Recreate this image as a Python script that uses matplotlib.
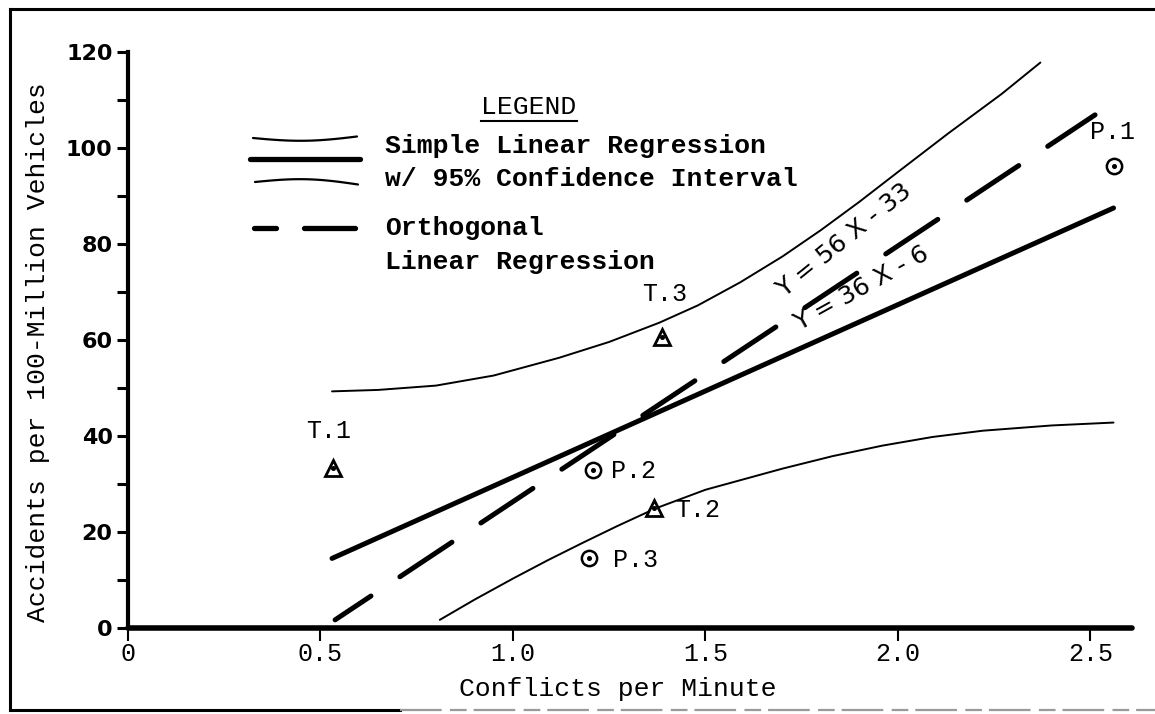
import matplotlib
matplotlib.use("Agg")
import matplotlib.pyplot as plt
import numpy as np
from matplotlib.lines import Line2D

plt.rcParams['lines.scale_dashes'] = False

# ---------------- data ----------------
x_ticks = [0, 0.5, 1.0, 1.5, 2.0, 2.5]
x_tick_labels = ["0", "0.5", "1.0", "1.5", "2.0", "2.5"]
y_ticks = [0, 20, 40, 60, 80, 100, 120]
y_minor_ticks = [10, 30, 50, 70, 90, 110]

# simple linear regression Y = 36 X - 6 (end points as drawn)
simple_x = [0.53, 2.56]
simple_y = [14.5, 87.5]
# orthogonal regression Y = 56 X - 33 (end points as drawn)
orth_x = [0.538, 2.512]
orth_y = [1.7, 106.9]
# 95% confidence band
upper_x = [0.53, 0.65, 0.80, 0.95, 1.12, 1.25, 1.38, 1.48, 1.59, 1.70, 1.80, 1.90, 2.00, 2.13, 2.27, 2.37]
upper_y = [49.3, 49.6, 50.5, 52.6, 56.3, 59.6, 63.6, 67.2, 72.0, 77.4, 82.9, 88.8, 95.0, 103.0, 111.3, 117.8]
lower_x = [0.81, 0.90, 1.00, 1.09, 1.18, 1.27, 1.37, 1.50, 1.70, 1.83, 1.96, 2.09, 2.22, 2.40, 2.56]
lower_y = [1.7, 5.9, 10.3, 14.1, 17.7, 21.2, 24.9, 28.8, 33.2, 35.8, 38.0, 39.8, 41.1, 42.2, 42.8]

# observations
tri_names = ["T.1", "T.2", "T.3"]
tri_x = [0.532, 1.366, 1.388]
tri_y = [33.3, 24.9, 60.7]
circ_names = ["P.1", "P.2", "P.3"]
circ_x = [2.562, 1.208, 1.198]
circ_y = [96.2, 32.9, 14.5]

eq_labels = ["Y = 56 X - 33", "Y = 36 X - 6"]

# ---------------- figure ----------------
W, H = 1155, 714
fig = plt.figure(figsize=(W / 100, H / 100), dpi=100)
fig.patch.set_facecolor("white")

def P(x, y):
    return (x / W, 1 - y / H)

ax = fig.add_axes([128 / W, 1 - 628 / H, (1132 - 128) / W, (628 - 52) / H])
ax.set_xlim(0, 2.608)
ax.set_ylim(0, 120)
ax.set_facecolor("white")

MONO = "Liberation Mono"
INK = "black"

# confidence band
ax.plot(upper_x, upper_y, color=INK, lw=1.4, solid_capstyle="round", solid_joinstyle="round")
ax.plot(lower_x, lower_y, color=INK, lw=1.4, solid_capstyle="round", solid_joinstyle="round")
# simple regression
ax.plot(simple_x, simple_y, color=INK, lw=3.6, solid_capstyle="round")
# orthogonal regression (long dashes)
ax.plot(orth_x, orth_y, color=INK, lw=3.6, linestyle=(14, (45, 25)), dash_capstyle="round")

# markers
ax.plot(tri_x, tri_y, ls="none", marker="^", ms=12, mfc="white", mec=INK, mew=2.0, zorder=5)
ax.plot(tri_x, tri_y, ls="none", marker="o", ms=2.6, color=INK, zorder=6)
ax.plot(circ_x, circ_y, ls="none", marker="o", ms=11, mfc="white", mec=INK, mew=1.8, zorder=5)
ax.plot(circ_x, circ_y, ls="none", marker="o", ms=2.6, color=INK, zorder=6)

# point labels (offsets in points)
label_off = {
    "T.1": ((-3, 27), "center"),
    "T.2": ((15, -1), "left"),
    "T.3": ((2, 31), "center"),
    "P.1": ((-1, 25), "center"),
    "P.2": ((13, -1), "left"),
    "P.3": ((17, -1), "left"),
}
for names, xs, ys in ((tri_names, tri_x, tri_y), (circ_names, circ_x, circ_y)):
    for n, xv, yv in zip(names, xs, ys):
        off, ha = label_off[n]
        ax.annotate(n, (xv, yv), xytext=off, textcoords="offset points",
                    ha=ha, va="center", fontsize=18, family=MONO, color=INK)

# equations along the lines
ax.text(1.86, 80.8, eq_labels[0], rotation=39, ha="center", va="center",
        fontsize=18, family="DejaVu Sans", color=INK, rotation_mode="anchor")
ax.text(1.906, 70.8, eq_labels[1], rotation=29, ha="center", va="center",
        fontsize=18, family="DejaVu Sans", color=INK, rotation_mode="anchor")

# axes styling
for s in ("top", "right"):
    ax.spines[s].set_visible(False)
ax.spines["left"].set_linewidth(3.0)
ax.spines["bottom"].set_linewidth(4.0)
ax.spines["bottom"].set_capstyle("round")

ax.set_xticks(x_ticks)
ax.set_xticklabels(x_tick_labels, family=MONO, fontsize=18)
ax.tick_params(axis="x", direction="out", length=9, width=1.5, pad=1, colors=INK)
ax.set_yticks(y_ticks)
ax.set_yticklabels([str(v) for v in y_ticks], family="DejaVu Sans", fontsize=16, fontweight="bold")
ax.set_yticks(y_minor_ticks, minor=True)
ax.tick_params(axis="y", which="both", direction="out", length=8, width=2.2, pad=3, colors=INK)

# axis titles
fig.text(*P(618, 689), "Conflicts per Minute", ha="center", va="center",
         fontsize=19, family=MONO, color=INK)
fig.text(*P(38, 352), "Accidents per 100-Million Vehicles", ha="center", va="center",
         rotation=90, fontsize=19, family=MONO, color=INK)

# ---------------- hand-made legend ----------------
fig.text(*P(529, 107), "LEGEND", ha="center", va="center", fontsize=19, family=MONO, color=INK)
fig.add_artist(Line2D([481 / W, 577 / W], [1 - 121 / H] * 2, color=INK, lw=1.5))
leg_lines = [("Simple Linear Regression", 146), ("w/ 95% Confidence Interval", 179),
             ("Orthogonal", 228), ("Linear Regression", 262)]
for txt, yy in leg_lines:
    fig.text(*P(385, yy), txt, ha="left", va="center", fontsize=19,
             family=MONO, fontweight="bold", color=INK)

t = np.linspace(0, 1, 30)
ux = 253 + (357 - 253) * t
uy = 138 - 1.5 * t + 3.5 * np.sin(np.pi * t)
fig.add_artist(Line2D(ux / W, 1 - uy / H, color=INK, lw=1.6, solid_capstyle="round"))
fig.add_artist(Line2D([250 / W, 360 / W], [1 - 159 / H] * 2, color=INK, lw=3.8, solid_capstyle="round"))
lx = 255 + (358 - 255) * t
ly = 182 + 2.5 * t - 4.0 * np.sin(np.pi * t)
fig.add_artist(Line2D(lx / W, 1 - ly / H, color=INK, lw=1.6, solid_capstyle="round"))
fig.add_artist(Line2D([254 / W, 276 / W], [1 - 228 / H] * 2, color=INK, lw=3.8, solid_capstyle="round"))
fig.add_artist(Line2D([304 / W, 355 / W], [1 - 228 / H] * 2, color=INK, lw=3.8, solid_capstyle="round"))

# ---------------- outer frame ----------------
fig.add_artist(Line2D([10 / W, 10 / W], [1 - 9 / H, 1 - 710 / H], color=INK, lw=2.2))
fig.add_artist(Line2D([10 / W, 1.0], [1 - 9 / H] * 2, color=INK, lw=2.2))
fig.add_artist(Line2D([10 / W, 400 / W], [1 - 710 / H] * 2, color=INK, lw=2.2))
fig.add_artist(Line2D([400 / W, 1.0], [1 - 710 / H] * 2, color="#9a9a9a", lw=1.6,
                      linestyle=(0, (30, 6, 12, 5))))

fig.savefig("out.png", dpi=100, facecolor="white")
